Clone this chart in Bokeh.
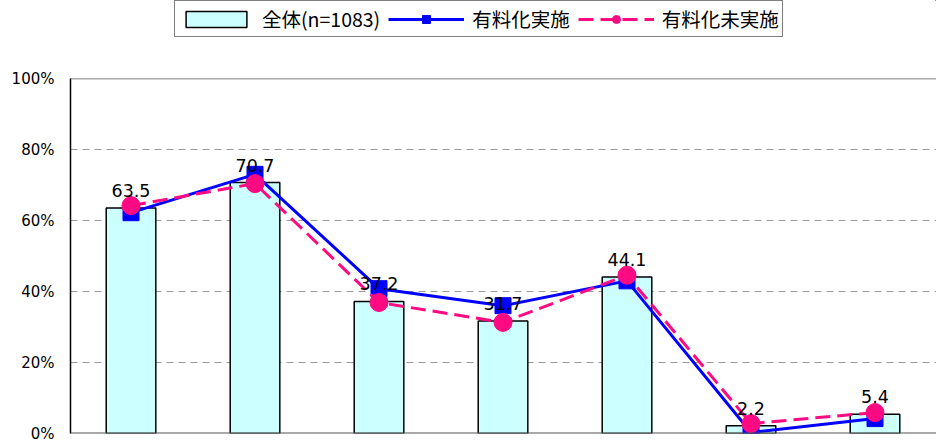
from bokeh.plotting import figure
from bokeh.layouts import column
from bokeh.core.properties import value
from bokeh.models import ColumnDataSource, Legend, LegendItem, Span, LabelSet, Range1d, FixedTicker, CustomJSTickFormatter
from bokeh.embed import file_html
from bokeh.resources import INLINE

categories = ["項目1", "項目2", "項目3", "項目4", "項目5", "項目6", "項目7"]
total_vals = [63.5, 70.7, 37.2, 31.7, 44.1, 2.2, 5.4]
implemented_vals = [62.2, 73.0, 40.8, 36.0, 43.0, 0.3, 4.2]
not_implemented_vals = [64.2, 70.4, 36.9, 31.3, 44.6, 2.8, 5.9]
y_ticks = [0, 20, 40, 60, 80, 100]
series_names = ["全体(n=1083)", "有料化実施", "有料化未実施"]

xs = list(range(1, len(categories) + 1))
src = ColumnDataSource(dict(
    x=xs, cat=categories, total=total_vals, impl=implemented_vals, noimpl=not_implemented_vals,
    lbl=[f"{v:.1f}" for v in total_vals],
))

FONT = "Noto Sans CJK JP"
BAR_FILL = "#CCFFFF"
BLUE = "#0000FF"
PINK = "#FF0A82"
DASH = "15 7"

# ---------- main chart ----------
p = figure(width=936, height=402, output_backend="svg", toolbar_location=None,
           x_range=Range1d(0.512, 7.496), y_range=Range1d(0, 100),
           x_axis_location=None, min_border_left=70, min_border_right=0,
           min_border_top=37, min_border_bottom=10)
p.outline_line_color = None
p.background_fill_color = "white"

p.xgrid.grid_line_color = None
p.ygrid.ticker = FixedTicker(ticks=[20, 40, 60, 80])
p.ygrid.grid_line_color = "#999999"
p.ygrid.grid_line_dash = "7 5"
p.ygrid.grid_line_width = 1

p.yaxis.ticker = FixedTicker(ticks=y_ticks)
p.yaxis.formatter = CustomJSTickFormatter(code="return tick + '%';")
p.yaxis.major_tick_out = 0
p.yaxis.major_tick_in = 0
p.yaxis.minor_tick_out = 0
p.yaxis.minor_tick_in = 0
p.yaxis.axis_line_color = "black"
p.yaxis.axis_line_width = 1.5
p.yaxis.major_label_text_font = "DejaVu Sans"
p.yaxis.major_label_text_font_size = "15px"
p.yaxis.major_label_text_color = "black"
p.yaxis.major_label_standoff = 16

p.add_layout(Span(location=100, dimension="width", line_color="#555555", line_width=1.5))
p.add_layout(Span(location=0, dimension="width", line_color="#555555", line_width=2))

p.vbar(x="x", top="total", width=0.4, source=src, fill_color=BAR_FILL,
       line_color="black", line_width=1.5)
p.line("x", "impl", source=src, line_color=BLUE, line_width=3)
p.scatter("x", "impl", source=src, marker="square", size=16, fill_color=BLUE, line_color=BLUE)
p.line("x", "noimpl", source=src, line_color=PINK, line_width=3, line_dash=DASH)
p.scatter("x", "noimpl", source=src, marker="circle", size=18, fill_color=PINK, line_color=PINK)

labels = LabelSet(x="x", y="total", text="lbl", source=src, text_align="center",
                  text_baseline="alphabetic", y_offset=11, text_font=value("DejaVu Sans"),
                  text_font_size="17.5px", text_color="black")
p.add_layout(labels)

# ---------- legend strip (same series, drawn far outside its visible ranges) ----------
lg = figure(width=936, height=41, output_backend="svg", toolbar_location=None,
            x_range=Range1d(-30, -29), y_range=Range1d(-300, -200),
            x_axis_location=None, y_axis_location=None,
            min_border_left=70, min_border_right=0, min_border_top=0, min_border_bottom=0)
lg.outline_line_color = None
lg.grid.visible = False
r_bar = lg.vbar(x="x", top="total", width=0.4, source=src, fill_color=BAR_FILL,
                line_color="black", line_width=1.5)
r_l1 = lg.line("x", "impl", source=src, line_color=BLUE, line_width=3)
r_m1 = lg.scatter("x", "impl", source=src, marker="square", size=16, fill_color=BLUE, line_color=BLUE)
r_l2 = lg.line("x", "noimpl", source=src, line_color=PINK, line_width=3, line_dash=DASH)
r_m2 = lg.scatter("x", "noimpl", source=src, marker="circle", size=18, fill_color=PINK, line_color=PINK)

legend = Legend(items=[
    LegendItem(label=series_names[0], renderers=[r_bar]),
    LegendItem(label=series_names[1], renderers=[r_l1, r_m1]),
    LegendItem(label=series_names[2], renderers=[r_l2, r_m2]),
], orientation="horizontal", location=(104, 4))
legend.label_text_font = FONT
legend.label_text_font_size = "19.5px"
legend.label_text_color = "black"
legend.label_height = 20
legend.glyph_width = 76
legend.glyph_height = 20
legend.label_standoff = 8
legend.spacing = 8
legend.padding = 3
legend.margin = 0
legend.border_line_color = "black"
legend.border_line_width = 1.5
legend.background_fill_alpha = 1
lg.add_layout(legend, "center")

layout = column(lg, p, spacing=0)
open("out.html", "w").write(file_html(layout, INLINE))
